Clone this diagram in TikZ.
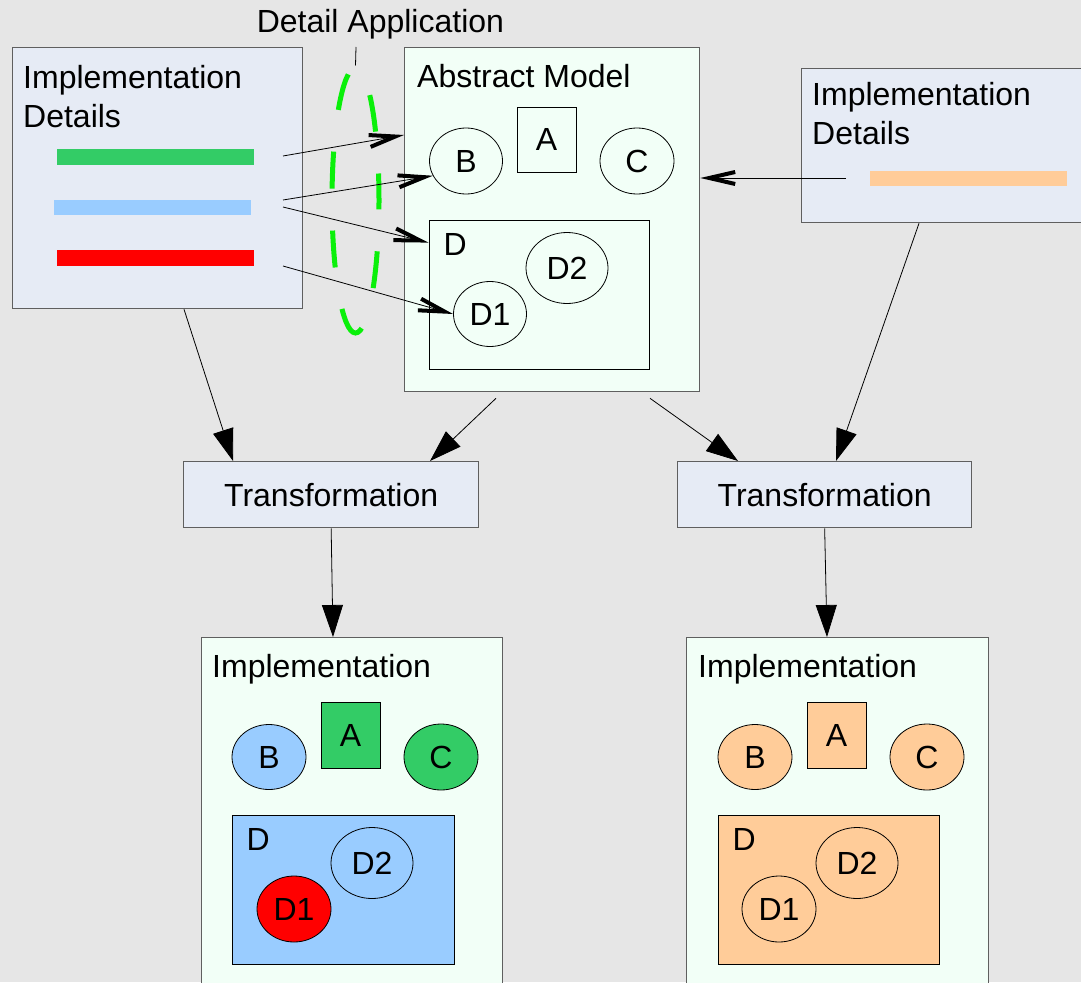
\documentclass[tikz,border=0pt]{standalone}
\usepackage{fontspec}
\setmainfont{Liberation Sans}
\usetikzlibrary{arrows.meta,shapes.geometric,calc}

\definecolor{bggray}{RGB}{230,230,230}
\definecolor{detailfill}{RGB}{230,235,245}
\definecolor{mintfill}{RGB}{242,255,247}
\definecolor{framegray}{RGB}{95,95,95}
\definecolor{implgreen}{RGB}{51,204,102}
\definecolor{implblue}{RGB}{153,204,255}
\definecolor{implred}{RGB}{255,0,0}
\definecolor{implorange}{RGB}{255,204,153}
\definecolor{applygreen}{RGB}{10,240,10}

\begin{document}
\begin{tikzpicture}[x=1pt,y=-1pt,
  font=\fontsize{32}{39.5}\selectfont,
  frame/.style={draw=framegray, line width=1.3pt, inner sep=0pt, anchor=north west},
  titletext/.style={inner sep=0pt, anchor=base west},
  part/.style={draw=black, line width=0.8pt, inner sep=0pt},
  partbox/.style={part, rectangle},
  partell/.style={part, ellipse},
  openarrow/.style={line width=0.8pt, -{Straight Barb[length=26pt,width=12pt,line width'=4pt,sharp]}},
  solidarrow/.style={line width=0.8pt, -{Triangle[length=32pt,width=21pt]}},
]
\useasboundingbox (0,0) rectangle (1081,982);
\clip (0,0) rectangle (1081,982);
\fill[bggray] (0,0) rectangle (1081,982);

% ---- detail sources ----
\node[frame, fill=detailfill, minimum width=290pt, minimum height=261pt] (ld) at (12,47) {};
\node[inner sep=0pt, anchor=north west, align=left] (ldtitle) at (23,65.1) {Implementation\\Details};
\fill[implgreen] (57,149) rectangle (254,165);
\fill[implblue] (54,200) rectangle (251,215);
\fill[implred] (57,250) rectangle (254,266);

\node[frame, fill=detailfill, minimum width=300pt, minimum height=154pt] (rd) at (801,68) {};
\node[inner sep=0pt, anchor=north west, align=left] (rdtitle) at (812,82.1) {Implementation\\Details};
\fill[implorange] (870,171) rectangle (1067,186);

% ---- abstract model ----
\node[frame, fill=mintfill, minimum width=295pt, minimum height=344pt] (am) at (404,47) {};
\node[titletext] (amtitle) at (417,88) {Abstract Model};
\node[partbox, minimum width=59pt, minimum height=65pt] (amA) at (546.5,139.5) {A};
\node[partell, minimum width=73pt, minimum height=66pt] (amB) at (466,161) {B};
\node[partell, minimum width=74pt, minimum height=66pt] (amC) at (637,161) {C};
\node[partbox, minimum width=220pt, minimum height=149pt] (amD) at (539,294.5) {};
\node[titletext] (amDlabel) at (443.5,255) {D};
\node[partell, minimum width=82pt, minimum height=71pt] (amD2) at (567,268) {D2};
\node[partell, minimum width=73pt, minimum height=65pt] (amD1) at (490,314) {D1};

% ---- detail application marker ----
\node[ellipse, draw=applygreen, line width=5pt, inner sep=0pt,
      minimum width=47pt, minimum height=265pt,
      dash pattern=on 37pt off 42pt, dash phase=10pt] (apply) at (355.5,200.5) {};
\node[titletext] (applylabel) at (256.6,33) {Detail Application};
\coordinate (applytick) at (356,47);
\draw[line width=0.8pt] (applytick) -- (apply.north);

% ---- mapping of details onto the model ----
\coordinate (s1) at (283,156);
\coordinate (s2) at (283,200);
\coordinate (s3) at (283,207);
\coordinate (s4) at (283,266);
\coordinate (s5) at (846,178);
\draw[openarrow] (s1) -- ($(am.north west)+(0,88)$);
\draw[openarrow] (s2) -- (amB.204);
\draw[openarrow] (s3) -- ($(amD.north west)+(0,23)$);
\draw[openarrow] (s4) -- (amD1.west);
\draw[openarrow] (s5) -- (am.east |- s5);

% ---- transformations ----
\node[frame, fill=detailfill, minimum width=295pt, minimum height=66pt] (t1) at (183,461) {};
\node[inner sep=0pt] (t1text) at (t1.center) {Transformation};
\node[frame, fill=detailfill, minimum width=294pt, minimum height=66pt] (t2) at (677,461) {};
\node[inner sep=0pt] (t2text) at (t2.center) {Transformation};

\draw[solidarrow] ($(ld.south west)+(172,0)$) -- ($(t1.north west)+(50,0)$);
\draw[solidarrow] ($(am.south west)+(92,6)$) -- ($(t1.north west)+(247,0)$);
\draw[solidarrow] ($(am.south west)+(246,6)$) -- ($(t2.north west)+(61,0)$);
\draw[solidarrow] ($(rd.south west)+(118,0)$) -- ($(t2.north west)+(159,0)$);

% ---- implementations ----
\node[frame, fill=mintfill, minimum width=301pt, minimum height=400pt] (i1) at (201,637) {};
\node[titletext] (i1title) at (212,677) {Implementation};
\node[partell, fill=implblue, minimum width=74pt, minimum height=65pt] (i1B) at (269,757) {B};
\node[partbox, fill=implgreen, minimum width=59pt, minimum height=66pt] (i1A) at (350.5,735) {A};
\node[partell, fill=implgreen, minimum width=74pt, minimum height=66pt] (i1C) at (441,757) {C};
\node[partbox, fill=implblue, minimum width=222pt, minimum height=149pt] (i1D) at (343,889.5) {};
\node[titletext] (i1Dlabel) at (246.5,850) {D};
\node[partell, fill=implblue, minimum width=82pt, minimum height=71pt] (i1D2) at (372,863) {D2};
\node[partell, fill=implred, minimum width=74pt, minimum height=66pt] (i1D1) at (294,909) {D1};

\node[frame, fill=mintfill, minimum width=302pt, minimum height=400pt] (i2) at (686,637) {};
\node[titletext] (i2title) at (698,677) {Implementation};
\node[partell, fill=implorange, minimum width=74pt, minimum height=65pt] (i2B) at (755,757) {B};
\node[partbox, fill=implorange, minimum width=59pt, minimum height=66pt] (i2A) at (836.5,735) {A};
\node[partell, fill=implorange, minimum width=74pt, minimum height=66pt] (i2C) at (927,757) {C};
\node[partbox, fill=implorange, minimum width=221pt, minimum height=149pt] (i2D) at (828.5,889.5) {};
\node[titletext] (i2Dlabel) at (732.5,850) {D};
\node[partell, fill=implorange, minimum width=82pt, minimum height=71pt] (i2D2) at (857,863) {D2};
\node[partell, fill=implorange, minimum width=74pt, minimum height=66pt] (i2D1) at (779,909) {D1};

\draw[solidarrow] (t1.south) -- ($(i1.north west)+(132,0)$);
\draw[solidarrow] (t2.south) -- ($(i2.north west)+(141,0)$);
\end{tikzpicture}
\end{document}
